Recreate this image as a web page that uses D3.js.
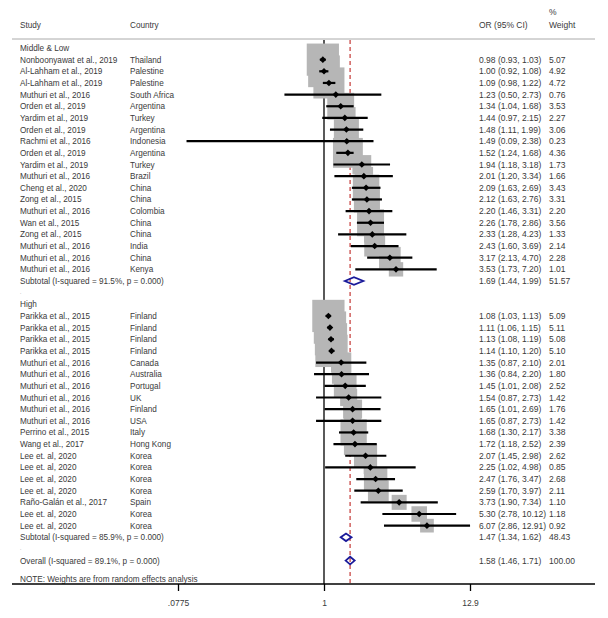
<!DOCTYPE html>
<html><head><meta charset="utf-8">
<script src="https://cdn.jsdelivr.net/npm/d3@7"></script>
<style>
body{margin:0;background:#fff;}
text{font-family:"Liberation Sans",Arial,sans-serif;font-size:8.2px;fill:#3a3a3a;}
text.num{font-size:8.5px;}
</style></head>
<body><svg id="c" width="608" height="618"></svg>
<script>
// ---- data ----
const mlStudies = ["Nonboonyawat et al., 2019","Al-Lahham et al., 2019","Al-Lahham et al., 2019","Muthuri et al., 2016","Orden et al., 2019","Yardim et al., 2019","Orden et al., 2019","Rachmi et al., 2016","Orden et al., 2019","Yardim et al., 2019","Muthuri et al., 2016","Cheng et al., 2020","Zong et al., 2015","Muthuri et al., 2016","Wan et al., 2015","Zong et al., 2015","Muthuri et al., 2016","Muthuri et al., 2016","Muthuri et al., 2016"];
const mlCountries = ["Thailand","Palestine","Palestine","South Africa","Argentina","Turkey","Argentina","Indonesia","Argentina","Turkey","Brazil","China","China","Colombia","China","China","India","China","Kenya"];
const mlOR = [0.98,1.00,1.09,1.23,1.34,1.44,1.48,1.49,1.52,1.94,2.01,2.09,2.12,2.20,2.26,2.33,2.43,3.17,3.53];
const mlLo = [0.93,0.92,0.98,0.50,1.04,0.97,1.11,0.09,1.24,1.18,1.20,1.63,1.63,1.46,1.78,1.28,1.60,2.13,1.73];
const mlHi = [1.03,1.08,1.22,2.73,1.68,2.15,1.99,2.38,1.68,3.18,3.34,2.69,2.76,3.31,2.86,4.23,3.69,4.70,7.20];
const mlW = [5.07,4.92,4.72,0.76,3.53,2.27,3.06,0.23,4.36,1.73,1.66,3.43,3.31,2.20,3.56,1.33,2.14,2.28,1.01];

const hiStudies = ["Parikka et al., 2015","Parikka et al., 2015","Parikka et al., 2015","Parikka et al., 2015","Muthuri et al., 2016","Muthuri et al., 2016","Muthuri et al., 2016","Muthuri et al., 2016","Muthuri et al., 2016","Muthuri et al., 2016","Perrino et al., 2015","Wang et al., 2017","Lee et. al, 2020","Lee et. al, 2020","Lee et. al, 2020","Lee et. al, 2020","Raño-Galán et al., 2017","Lee et. al, 2020","Lee et. al, 2020"];
const hiCountries = ["Finland","Finland","Finland","Finland","Canada","Australia","Portugal","UK","Finland","USA","Italy","Hong Kong","Korea","Korea","Korea","Korea","Spain","Korea","Korea"];
const hiOR = [1.08,1.11,1.13,1.14,1.35,1.36,1.45,1.54,1.65,1.65,1.68,1.72,2.07,2.25,2.47,2.59,3.73,5.30,6.07];
const hiLo = [1.03,1.06,1.08,1.10,0.87,0.84,1.01,0.87,1.01,0.87,1.30,1.18,1.45,1.02,1.76,1.70,1.90,2.78,2.86];
const hiHi = [1.13,1.15,1.19,1.20,2.10,2.20,2.08,2.73,2.69,2.73,2.17,2.52,2.98,4.98,3.47,3.97,7.34,10.12,12.91];
const hiW = [5.09,5.11,5.08,5.10,2.01,1.80,2.52,1.42,1.76,1.42,3.38,2.39,2.62,0.85,2.68,2.11,1.10,1.18,0.92];

const groupNames = ["Middle & Low","High"];
const subLabels = ["Subtotal  (I-squared = 91.5%, p = 0.000)","Subtotal  (I-squared = 85.9%, p = 0.000)"];
const subOR = [1.69,1.47], subLo = [1.44,1.34], subHi = [1.99,1.62], subW = [51.57,48.43];
const overallLabel = "Overall  (I-squared = 89.1%, p = 0.000)";
const overallOR = 1.58, overallLo = 1.46, overallHi = 1.71, overallW = 100.00;
const noteText = "NOTE: Weights are from random effects analysis";
const tickVals = [1/12.9, 1, 12.9];
const tickLabels = [".0775", "1", "12.9"];

// ---- build rows ----
const rows = [];
function addGroup(g, st, co, or, lo, hi, w){
  rows.push({type:"head", label:groupNames[g]});
  st.forEach((s,i)=>rows.push({type:"study", label:s, country:co[i], or:or[i], lo:lo[i], hi:hi[i], w:w[i]}));
  rows.push({type:"sub", label:subLabels[g], or:subOR[g], lo:subLo[g], hi:subHi[g], w:subW[g]});
  rows.push({type:"blank"});
}
addGroup(0, mlStudies, mlCountries, mlOR, mlLo, mlHi, mlW);
addGroup(1, hiStudies, hiCountries, hiOR, hiLo, hiHi, hiW);
rows.push({type:"sub", label:overallLabel, or:overallOR, lo:overallLo, hi:overallHi, w:overallW});
rows.forEach((r,i)=>r.i=i);

// ---- scales ----
const svg = d3.select("#c");
const x = d3.scaleLog().domain([1/12.9, 12.9]).range([178, 470]);
const y = d3.scaleLinear().domain([0,1]).range([48, 59.65]);
const f2 = d3.format(".2f");
const axisY = 584, topY = 40;

// header
svg.append("text").attr("x",20).attr("y",28).text("Study");
svg.append("text").attr("x",130).attr("y",28).text("Country");
svg.append("text").attr("class","num").attr("x",479).attr("y",28).text("OR (95% CI)");
svg.append("text").attr("class","num").attr("x",549).attr("y",15).text("%");
svg.append("text").attr("class","num").attr("x",549).attr("y",28).text("Weight");
svg.append("line").attr("x1",12).attr("x2",595).attr("y1",39).attr("y2",39).attr("stroke","#aaa").attr("stroke-width",1);

const studies = rows.filter(r=>r.type==="study");
const side = w => 14.3*Math.sqrt(w);

// null line
svg.append("line").attr("x1",x(1)).attr("x2",x(1)).attr("y1",topY).attr("y2",axisY).attr("stroke","#000").attr("stroke-width",1.3);
// overall dashed line
svg.append("line").attr("x1",x(overallOR)).attr("x2",x(overallOR)).attr("y1",topY).attr("y2",axisY)
  .attr("stroke","#d0605e").attr("stroke-width",1.5).attr("stroke-dasharray","4,3");

// boxes (drawn over the reference lines)
svg.append("g").selectAll("rect").data(studies).join("rect")
  .attr("x",d=>x(d.or)-side(d.w)/2).attr("y",d=>y(d.i)-side(d.w)/2)
  .attr("width",d=>side(d.w)).attr("height",d=>side(d.w)).attr("fill","#b6b6b6");

// CI lines
svg.append("g").selectAll("line").data(studies).join("line")
  .attr("x1",d=>x(d.lo)).attr("x2",d=>x(d.hi)).attr("y1",d=>y(d.i)).attr("y2",d=>y(d.i))
  .attr("stroke","#000").attr("stroke-width",2.2);
// point markers
svg.append("g").selectAll("path").data(studies).join("path")
  .attr("d",d=>{const cx=x(d.or), cy=y(d.i), r=3.3; return `M${cx},${cy-r}L${cx+r},${cy}L${cx},${cy+r}L${cx-r},${cy}Z`;})
  .attr("fill","#000");

// diamonds
const subs = rows.filter(r=>r.type==="sub");
svg.append("g").selectAll("path").data(subs).join("path")
  .attr("d",d=>{const cy=y(d.i), h=3.8; return `M${x(d.lo)},${cy}L${x(d.or)},${cy-h}L${x(d.hi)},${cy}L${x(d.or)},${cy+h}Z`;})
  .attr("fill","none").attr("stroke","#1a1a9a").attr("stroke-width",1.8);

// text rows
const tg = svg.append("g");
rows.forEach(r=>{
  const yy = y(r.i)+3;
  if(r.type==="head"){ tg.append("text").attr("x",20).attr("y",yy).text(r.label); }
  if(r.type==="blank"){ tg.append("text").attr("x",20).attr("y",yy-2).style("font-size","5px").style("fill","#888").text("."); }
  if(r.type==="study"){
    tg.append("text").attr("x",20).attr("y",yy).text(r.label);
    tg.append("text").attr("x",130).attr("y",yy).text(r.country);
  }
  if(r.type==="sub"){ tg.append("text").attr("x",20).attr("y",yy).text(r.label); }
  if(r.type==="study"||r.type==="sub"){
    tg.append("text").attr("class","num").attr("x",479).attr("y",yy).text(`${f2(r.or)} (${f2(r.lo)}, ${f2(r.hi)})`);
    tg.append("text").attr("class","num").attr("x",549).attr("y",yy).text(f2(r.w));
  }
});
svg.append("text").attr("x",20).attr("y",y(rows.length-1+1.55)+3).text(noteText);

// axis
svg.append("line").attr("x1",12).attr("x2",595).attr("y1",axisY).attr("y2",axisY).attr("stroke","#000").attr("stroke-width",1.5);
const ax = svg.append("g").attr("transform",`translate(0,${axisY})`)
  .call(d3.axisBottom(x).tickValues(tickVals).tickFormat((d,i)=>tickLabels[i]).tickSize(7).tickPadding(9));
ax.select(".domain").remove();
ax.selectAll(".tick line").attr("stroke","#000").attr("stroke-width",1.3);
ax.selectAll(".tick text").style("font-size","8.5px").style("font-family","Liberation Sans, Arial, sans-serif").style("fill","#3a3a3a");
</script></body></html>
